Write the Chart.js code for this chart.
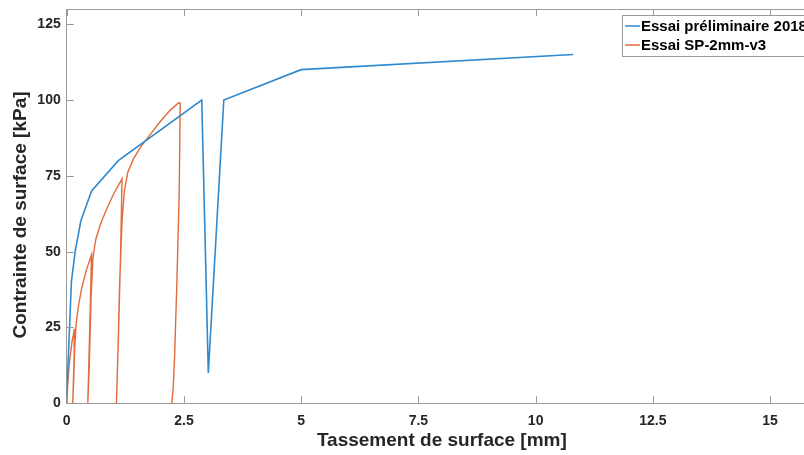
<!DOCTYPE html>
<html>
<head>
<meta charset="utf-8">
<script src="https://cdn.jsdelivr.net/npm/chart.js@4.4.1/dist/chart.umd.min.js"></script>
<style>
  html, body { margin: 0; padding: 0; background: #fff; overflow: hidden; }
  #wrap { width: 830px; height: 455px; }
</style>
</head>
<body>
<div id="wrap"><canvas id="c" width="830" height="455"></canvas></div>
<script>
// ---- data ----
const seriesNames = ['Essai préliminaire 2018', 'Essai SP-2mm-v3'];

const prelimX = [0, 0.1, 0.18, 0.3, 0.53, 1.1, 2.88, 3.02, 3.35, 5.0, 10.8];
const prelimY = [2, 40, 50, 60, 70, 80, 100, 10, 100, 110, 115];

const sp2X = [0, 0.02, 0.06, 0.12, 0.17,
              0.16, 0.14, 0.13,
              0.15, 0.17, 0.2, 0.25, 0.32, 0.42, 0.53,
              0.5, 0.47, 0.45,
              0.48, 0.52, 0.56, 0.62, 0.72, 0.85, 1.0, 1.18,
              1.15, 1.1, 1.06,
              1.09, 1.13, 1.18, 1.23, 1.3, 1.42, 1.6, 1.8, 2.0, 2.2, 2.38, 2.42,
              2.4, 2.35, 2.3, 2.27, 2.24];
const sp2Y = [0, 6, 14, 21, 24.5,
              16, 6, 0,
              8, 18, 26, 32, 38, 44, 49,
              30, 12, 0,
              12, 35, 48, 54, 59, 64, 69, 74,
              50, 20, 0,
              15, 40, 60, 70, 76, 80.5, 85, 89, 93, 96.5, 99, 99,
              70, 40, 15, 5, 0];

const xTickStep = 2.5;
const yTickStep = 25;
const xMax = 16;
const yMax = 130;

// ---- styles ----
const blue = '#2f89cf';
const orange = '#e26a3b';
const axisColor = '#9a9a9a';
const textColor = '#262626';
const fontFamily = '"Liberation Sans", Arial, Helvetica, sans-serif';

function toPoints(xs, ys) { return xs.map((x, i) => ({ x: x, y: ys[i] })); }

const matlabBox = {
  id: 'matlabBox',
  afterDraw(chart) {
    const ctx = chart.ctx;
    const a = chart.chartArea;
    const xs = chart.scales.x, ys = chart.scales.y;
    ctx.save();
    ctx.strokeStyle = axisColor;
    ctx.lineWidth = 1;
    ctx.beginPath();
    ctx.moveTo(a.left, a.top + 0.5);
    ctx.lineTo(a.right, a.top + 0.5);
    ctx.moveTo(a.right - 0.5, a.top);
    ctx.lineTo(a.right - 0.5, a.bottom);
    const tl = 7;
    xs.ticks.forEach(t => {
      const px = Math.round(xs.getPixelForValue(t.value)) + 0.5;
      ctx.moveTo(px, a.bottom); ctx.lineTo(px, a.bottom - tl);
      ctx.moveTo(px, a.top); ctx.lineTo(px, a.top + tl);
    });
    ys.ticks.forEach(t => {
      const py = Math.round(ys.getPixelForValue(t.value)) + 0.5;
      ctx.moveTo(a.left, py); ctx.lineTo(a.left + tl, py);
      ctx.moveTo(a.right, py); ctx.lineTo(a.right - tl, py);
    });
    ctx.stroke();

    // axis titles
    ctx.fillStyle = textColor;
    ctx.font = 'bold 19px ' + fontFamily;
    ctx.textAlign = 'center';
    ctx.textBaseline = 'middle';
    ctx.fillText('Tassement de surface [mm]', (a.left + a.right) / 2, 441);
    ctx.save();
    ctx.translate(21, 215);
    ctx.rotate(-Math.PI / 2);
    ctx.fillText('Contrainte de surface [kPa]', 0, 0);
    ctx.restore();

    // legend
    const lx = 622.5, ly = 15.5, lw = 210, lh = 41;
    ctx.fillStyle = '#fff';
    ctx.fillRect(lx, ly, lw, lh);
    ctx.strokeStyle = axisColor;
    ctx.lineWidth = 1;
    ctx.strokeRect(lx, ly, lw, lh);
    const rows = [26, 45];
    chart.data.datasets.forEach((ds, i) => {
      ctx.strokeStyle = ds.borderColor;
      ctx.lineWidth = 1.5;
      ctx.beginPath();
      ctx.moveTo(625, rows[i]);
      ctx.lineTo(640, rows[i]);
      ctx.stroke();
      ctx.fillStyle = '#000';
      ctx.font = 'bold 15px ' + fontFamily;
      ctx.textAlign = 'left';
      ctx.textBaseline = 'middle';
      ctx.fillText(ds.label, 641, rows[i] + 0.5);
    });
    ctx.restore();
  }
};

new Chart(document.getElementById('c'), {
  type: 'scatter',
  data: {
    datasets: [
      { label: seriesNames[0], data: toPoints(prelimX, prelimY), borderColor: blue, backgroundColor: blue,
        showLine: true, pointRadius: 0, borderWidth: 1.6, tension: 0 },
      { label: seriesNames[1], data: toPoints(sp2X, sp2Y), borderColor: orange, backgroundColor: orange,
        showLine: true, pointRadius: 0, borderWidth: 1.4, tension: 0 }
    ]
  },
  options: {
    responsive: false,
    animation: false,
    devicePixelRatio: 1,
    layout: { padding: { left: 0, top: 9, right: 13, bottom: 0 } },
    plugins: { legend: { display: false }, tooltip: { enabled: false } },
    scales: {
      x: {
        type: 'linear', min: 0, max: xMax,
        grid: { display: false, drawTicks: false },
        border: { display: true, color: axisColor, width: 1 },
        ticks: {
          stepSize: xTickStep, includeBounds: false, padding: 9, color: textColor,
          font: { family: fontFamily, size: 14, weight: 'bold' },
          maxRotation: 0, autoSkip: false,
          callback: v => String(v)
        },
        afterFit: s => { s.height = 51.7; s.paddingLeft = 0; s.paddingRight = 0; }
      },
      y: {
        type: 'linear', min: 0, max: yMax,
        grid: { display: false, drawTicks: false },
        border: { display: true, color: axisColor, width: 1 },
        ticks: {
          stepSize: yTickStep, includeBounds: false, padding: 6, color: textColor,
          font: { family: fontFamily, size: 14, weight: 'bold' },
          callback: v => String(v)
        },
        afterFit: s => { s.width = 66.7; s.paddingTop = 0; s.paddingBottom = 0; }
      }
    }
  },
  plugins: [matlabBox]
});
</script>
</body>
</html>
